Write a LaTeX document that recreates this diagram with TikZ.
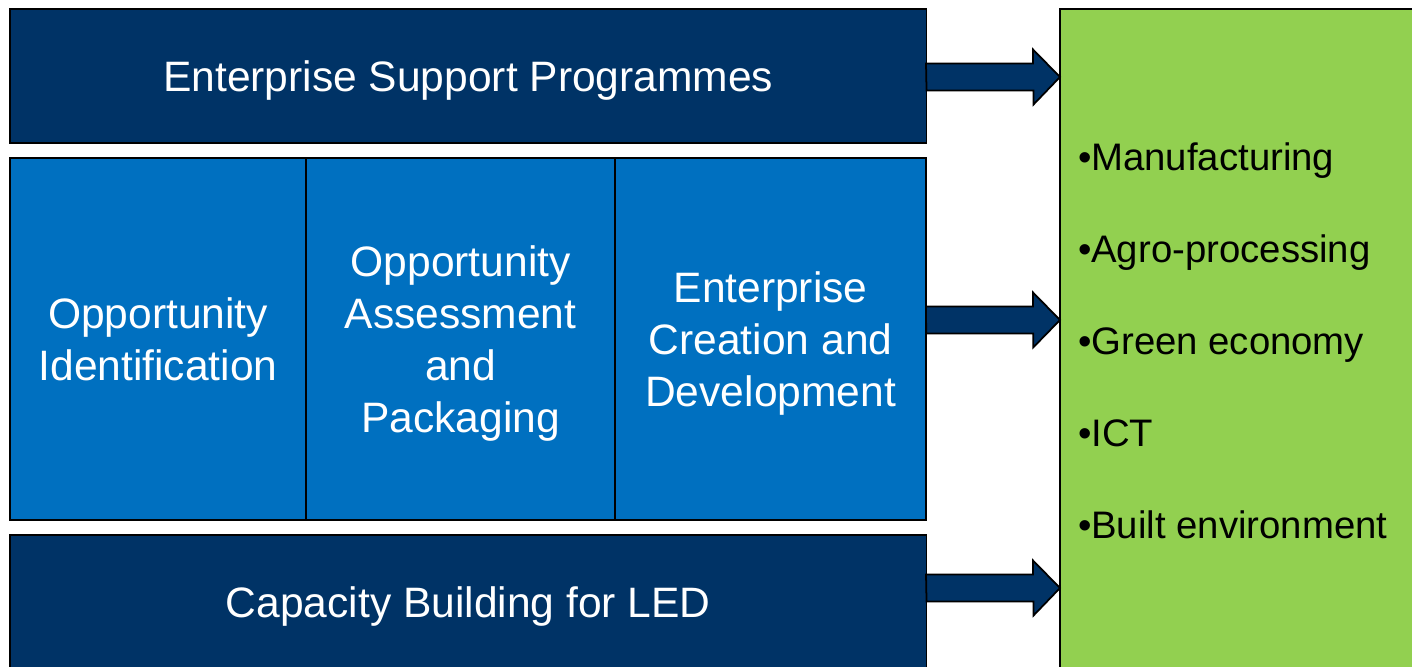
\documentclass[tikz,border=0pt]{standalone}
\usepackage{fontspec}
\setmainfont{Liberation Sans}
\definecolor{navy}{RGB}{0,51,102}
\definecolor{midblue}{RGB}{0,112,192}
\definecolor{leafgreen}{RGB}{146,208,80}

\begin{document}
\begin{tikzpicture}[x=0.01cm, y=-0.01cm,
                        every node/.style={outer sep=0pt, inner sep=0pt},
                        bar/.style={draw=black, line width=0.5pt, fill=navy, text=white, anchor=north west,
                                    text depth=0pt, font=\fontsize{12.1}{14.8}\selectfont},
                        cell/.style={draw=black, line width=0.5pt, fill=midblue, text=white, anchor=north west,
                                     align=center, text depth=0pt, minimum height=3.62cm,
                                     font=\fontsize{12.1}{14.8}\selectfont},
                        bigarrow/.style={draw=black, line width=0.5pt, fill=navy, line join=miter}]
                        \useasboundingbox (0,0) rectangle (1412,667);
                        \clip (0,0) rectangle (1412,667);

                        \node[bar, minimum width=9.16cm, minimum height=1.34cm] (esp) at (10,9) {Enterprise Support Programmes};

                        \node[cell, minimum width=2.96cm] (ident) at (10,158) {Opportunity\\Identification};
                        \node[cell, minimum width=3.09cm] (assess) at (306,158) {Opportunity\\Assessment\\and\\Packaging};
                        \node[cell, minimum width=3.11cm] (create) at (615,158) {Enterprise\\Creation and\\Development};

                        \node[bar, minimum width=9.16cm, minimum height=1.35cm] (led) at (10,535) {Capacity Building for LED};

                        \node[draw=black, line width=0.5pt, fill=leafgreen, anchor=north west,
                              minimum width=3.7cm, minimum height=6.8cm] (sectors) at (1060,9) {};
                        \node[anchor=west, align=left, font=\fontsize{10.9}{26.2}\selectfont] (list) at (1078,341)
                              {•Manufacturing\\•Agro-processing\\•Green economy\\•ICT\\•Built environment};

                        \coordinate (a1) at (esp.east |- 0,77);
                        \coordinate (a2) at (create.east |- 0,320);
                        \coordinate (a3) at (led.east |- 0,588);

                        \foreach \a in {a1,a2,a3}
                            \draw[bigarrow] (\a) ++(0,13.5) -- ++(107,0) -- ++(0,14) -- (sectors.west |- \a)
                                -- ++(-27,-27.5) -- ++(0,14) -- ++(-107,0) -- cycle;
                    \end{tikzpicture}
\end{document}
